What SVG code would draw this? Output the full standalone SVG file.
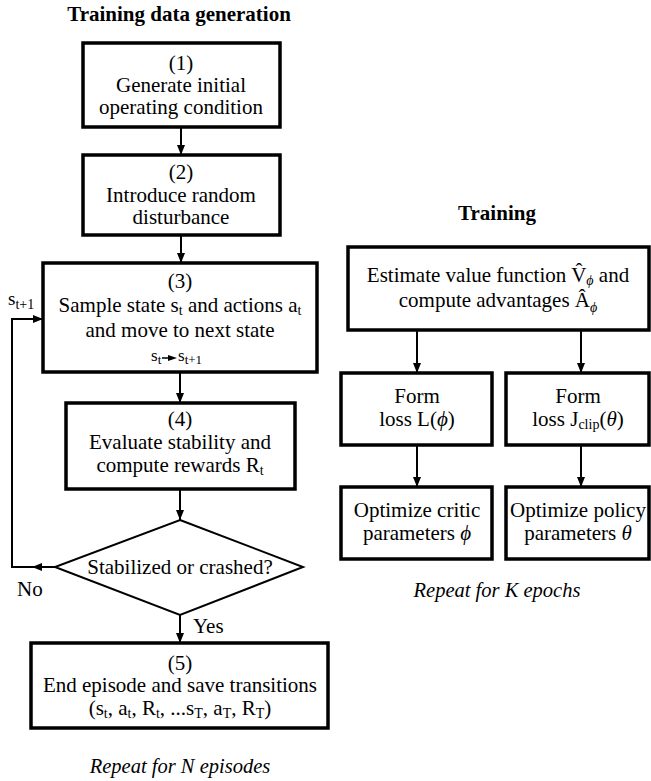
<svg xmlns="http://www.w3.org/2000/svg" width="651" height="781" viewBox="0 0 651 781">
<style>
text{font-family:"Liberation Serif","Times New Roman",serif;fill:#000;}
.t{font-size:21px;text-anchor:middle;}
.h{font-size:21px;font-weight:bold;text-anchor:middle;}
.i{font-size:20.5px;font-style:italic;text-anchor:middle;}
.box{fill:#fff;stroke:#000;stroke-width:3.5;}
.dia{fill:#fff;stroke:#000;stroke-width:2;}
.c{fill:none;stroke:#000;stroke-width:2;}
.s{font-size:14px;}
</style>
<defs>
<marker id="ah" viewBox="0 0 10 8" refX="10" refY="4" markerWidth="10" markerHeight="8" markerUnits="userSpaceOnUse" orient="auto">
<path d="M0,0 L10,4 L0,8 z" fill="#000"/>
</marker>
</defs>
<rect width="651" height="781" fill="#fff"/>
<text class="h" x="179" y="21">Training data generation</text>
<text class="h" x="497" y="220">Training</text>
<g id="connectors">
<line class="c" x1="181" y1="127" x2="181" y2="155" marker-end="url(#ah)"/>
<line class="c" x1="181" y1="235" x2="181" y2="263" marker-end="url(#ah)"/>
<line class="c" x1="180" y1="372" x2="180" y2="403" marker-end="url(#ah)"/>
<line class="c" x1="180" y1="489" x2="180" y2="520" marker-end="url(#ah)"/>
<line class="c" x1="180" y1="615" x2="180" y2="643" marker-end="url(#ah)"/>
<line class="c" x1="55" y1="567" x2="32" y2="567" marker-end="url(#ah)"/>
<polyline class="c" points="33,567 12,567 12,319 43,319" marker-end="url(#ah)"/>
<line class="c" x1="417" y1="330" x2="417" y2="373" marker-end="url(#ah)"/>
<line class="c" x1="581" y1="330" x2="581" y2="373" marker-end="url(#ah)"/>
<line class="c" x1="417" y1="445" x2="417" y2="487" marker-end="url(#ah)"/>
<line class="c" x1="581" y1="445" x2="581" y2="487" marker-end="url(#ah)"/>
</g>
<g id="n1">
<rect class="box" x="83" y="43" width="197" height="84"/>
<text class="t" x="181" y="70">(1)</text>
<text class="t" x="181" y="92">Generate initial</text>
<text class="t" x="181" y="114">operating condition</text>
</g>
<g id="n2">
<rect class="box" x="83" y="155" width="197" height="80"/>
<text class="t" x="181" y="179">(2)</text>
<text class="t" x="181" y="202">Introduce random</text>
<text class="t" x="181" y="224">disturbance</text>
</g>
<g id="n3">
<rect class="box" x="43" y="263" width="274" height="109"/>
<text class="t" x="180" y="288">(3)</text>
<text class="t" x="180" y="312">Sample state s<tspan class="s" dy="3">t</tspan><tspan dy="-3"> and actions a</tspan><tspan class="s" dy="3">t</tspan></text>
<text class="t" x="180" y="337">and move to next state</text>
<text x="151" y="361" style="font-size:17px">s<tspan dy="3" style="font-size:13px">t</tspan></text>
<line x1="162" y1="358" x2="171" y2="358" stroke="#000" stroke-width="1.5"/>
<path d="M168,355 L177,358 L168,361 z" fill="#000"/>
<text x="178" y="361" style="font-size:17px">s<tspan dy="3" style="font-size:13px">t+1</tspan></text>
</g>
<text id="lbl_st1" x="8" y="305" style="font-size:19px">s<tspan dy="4" style="font-size:14px">t+1</tspan></text>
<g id="n4">
<rect class="box" x="66" y="403" width="229" height="86"/>
<text class="t" x="180" y="426">(4)</text>
<text class="t" x="180" y="449">Evaluate stability and</text>
<text class="t" x="180" y="472">compute rewards R<tspan class="s" dy="3">t</tspan></text>
</g>
<g id="d1">
<polygon class="dia" points="180,520 303,567 180,615 55,567"/>
<text class="t" x="180" y="574">Stabilized or crashed?</text>
</g>
<text id="lbl_no" x="17" y="596" style="font-size:21px">No</text>
<text id="lbl_yes" x="193" y="633" style="font-size:21px">Yes</text>
<g id="n5">
<rect class="box" x="31" y="643" width="297" height="85"/>
<text class="t" x="180" y="670">(5)</text>
<text class="t" x="180" y="692">End episode and save transitions</text>
<text class="t" x="180" y="715">(s<tspan class="s" dy="3">t</tspan><tspan dy="-3">, a</tspan><tspan class="s" dy="3">t</tspan><tspan dy="-3">, R</tspan><tspan class="s" dy="3">t</tspan><tspan dy="-3">, ...s</tspan><tspan class="s" dy="3">T</tspan><tspan dy="-3">, a</tspan><tspan class="s" dy="3">T</tspan><tspan dy="-3">, R</tspan><tspan class="s" dy="3">T</tspan><tspan dy="-3">)</tspan></text>
</g>
<text class="i" x="180" y="773">Repeat for N episodes</text>
<g id="t1">
<rect class="box" x="348" y="247" width="301" height="83"/>
<text class="t" x="498" y="282">Estimate value function V̂<tspan class="s" dy="3" font-style="italic">ϕ</tspan><tspan dy="-3"> and</tspan></text>
<text class="t" x="498" y="307">compute advantages Â<tspan class="s" dy="5" font-style="italic">ϕ</tspan></text>
</g>
<g id="t2">
<rect class="box" x="341" y="373" width="151" height="72"/>
<text class="t" x="417" y="403">Form</text>
<text class="t" x="417" y="426">loss L(<tspan font-style="italic">ϕ</tspan>)</text>
</g>
<g id="t3">
<rect class="box" x="506" y="373" width="143" height="72"/>
<text class="t" x="578" y="403">Form</text>
<text class="t" x="578" y="426">loss J<tspan class="s" dy="3">clip</tspan><tspan dy="-3">(</tspan><tspan font-style="italic">θ</tspan>)</text>
</g>
<g id="t4">
<rect class="box" x="341" y="487" width="151" height="72"/>
<text class="t" x="417" y="517">Optimize critic</text>
<text class="t" x="417" y="540">parameters <tspan font-style="italic">ϕ</tspan></text>
</g>
<g id="t5">
<rect class="box" x="506" y="487" width="143" height="72"/>
<text class="t" x="578" y="517">Optimize policy</text>
<text class="t" x="578" y="540">parameters <tspan font-style="italic">θ</tspan></text>
</g>
<text class="i" x="497" y="597">Repeat for K epochs</text>
</svg>
